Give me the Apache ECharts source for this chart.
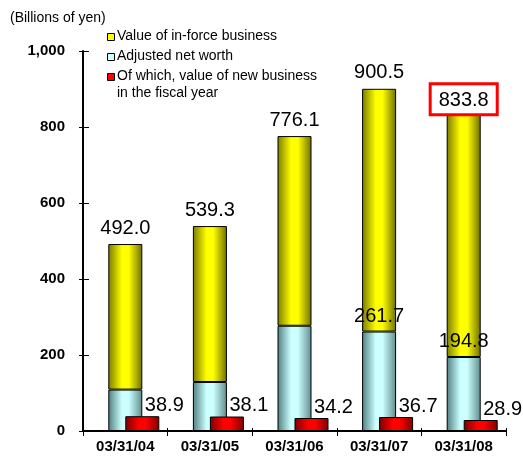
<!DOCTYPE html>
<html>
<head>
<meta charset="utf-8">
<script src="https://cdn.jsdelivr.net/npm/echarts@6/dist/echarts.min.js"></script>
<style>
  html, body { margin: 0; padding: 0; background: #fff; }
  #chart { width: 523px; height: 465px; }
</style>
</head>
<body>
<div id="chart"></div>
<script>
// Embedded value, billions of yen, at fiscal year end
const dates = ['03/31/04', '03/31/05', '03/31/06', '03/31/07', '03/31/08'];
const totalValue = [492.0, 539.3, 776.1, 900.5, 833.8];
const adjustedNetWorth = [109, 129, 277, 261.7, 194.8];
const newBusinessValue = [38.9, 38.1, 34.2, 36.7, 28.9];
const netWorthLabelled = [false, false, false, true, true];
const highlightedIndex = 4;

const seriesNames = [
  'Value of in-force business',
  'Adjusted net worth',
  'Of which, value of new business\nin the fiscal year'
];

const FONT = '"Liberation Sans", Arial, sans-serif';

// in-force value is the part of the total above adjusted net worth
const inForceValue = totalValue.map((t, i) => +(t - adjustedNetWorth[i]).toFixed(1));

function cylinder(edgeL, mid, edgeR) {
  return new echarts.graphic.LinearGradient(0, 0, 1, 0, [
    { offset: 0, color: edgeL },
    { offset: 0.4, color: mid },
    { offset: 0.6, color: mid },
    { offset: 1, color: edgeR }
  ]);
}
const yellowFill = cylinder('#7a7a00', '#ffff00', '#6e6e00');
const blueFill = cylinder('#4f7f80', '#ccffff', '#5f8c8c');
const redFill = cylinder('#7a0000', '#ff0000', '#800000');
const legendColors = ['#ffff00', '#ccffff', '#ff0000'];

const valueLabel = {
  show: true,
  position: 'top',
  distance: 6,
  color: '#000',
  fontFamily: FONT,
  fontSize: 20
};

const chart = echarts.init(document.getElementById('chart'), null, { renderer: 'canvas' });

// hand-built legend so the swatch lines up with the first text line
const legendGraphics = [];
let ly = 31;
seriesNames.forEach((name, i) => {
  legendGraphics.push({
    type: 'rect',
    left: 107, top: ly + 2,
    shape: { width: 7, height: 7 },
    style: { fill: legendColors[i], stroke: '#000', lineWidth: 1 }
  });
  legendGraphics.push({
    type: 'text',
    left: 117, top: ly - 3,
    style: { text: name, fill: '#000', font: '14px ' + FONT, lineHeight: 17 }
  });
  ly += 20;
});
legendGraphics.push({
  type: 'text',
  left: 10, top: 11,
  style: { text: '(Billions of yen)', fill: '#000', font: '14px ' + FONT }
});

const option = {
  animation: false,
  backgroundColor: '#fff',
  grid: [
    { left: 83, right: 17, top: 51, bottom: 34 },
    { left: 100, right: 0, top: 51, bottom: 34 }
  ],
  xAxis: [
    {
      type: 'category', gridIndex: 0, data: dates,
      axisLine: { lineStyle: { color: '#000', width: 2 } },
      axisTick: { show: true, length: 5, lineStyle: { color: '#000', width: 1 } },
      axisLabel: { color: '#000', fontFamily: FONT, fontWeight: 'bold', fontSize: 15, margin: 8 }
    },
    {
      type: 'category', gridIndex: 0, data: dates, position: 'bottom',
      axisLine: { show: false },
      axisTick: { show: true, inside: true, length: 3, lineStyle: { color: '#000', width: 1 } },
      axisLabel: { show: false }
    },
    {
      type: 'category', gridIndex: 1, data: dates, show: false
    }
  ],
  yAxis: [
    {
      type: 'value', gridIndex: 0, min: 0, max: 1000, interval: 200,
      splitLine: { show: false },
      axisLine: { show: true, lineStyle: { color: '#000', width: 2 } },
      axisTick: { show: true, length: 4, lineStyle: { color: '#000', width: 1 } },
      axisLabel: {
        color: '#000', fontFamily: FONT, fontWeight: 'bold', fontSize: 15, margin: 18,
        formatter: v => v.toLocaleString('en-US')
      }
    },
    {
      type: 'value', gridIndex: 0, min: 0, max: 1000, interval: 200, position: 'left',
      splitLine: { show: false },
      axisLine: { show: false },
      axisTick: { show: true, inside: true, length: 6, lineStyle: { color: '#000', width: 1 } },
      axisLabel: { show: false }
    },
    {
      type: 'value', gridIndex: 1, min: 0, max: 1000, show: false, splitLine: { show: false }
    }
  ],
  series: [
    {
      name: seriesNames[1],
      type: 'bar', stack: 'ev', xAxisIndex: 0, yAxisIndex: 0,
      barWidth: 34,
      itemStyle: { color: blueFill, borderColor: '#000', borderWidth: 1 },
      data: adjustedNetWorth.map((v, i) => ({
        value: v,
        label: Object.assign({}, valueLabel, { show: netWorthLabelled[i], distance: 5 })
      })),
      z: 2
    },
    {
      name: seriesNames[0],
      type: 'bar', stack: 'ev', xAxisIndex: 0, yAxisIndex: 0,
      barWidth: 34,
      itemStyle: { color: yellowFill, borderColor: '#000', borderWidth: 1 },
      data: inForceValue.map((v, i) => {
        const item = { value: v };
        if (i === highlightedIndex) {
          item.label = Object.assign({}, valueLabel, {
            backgroundColor: '#fff', borderColor: '#ff0000', borderWidth: 3,
            padding: [5, 7, 3, 7], distance: 1
          });
        }
        return item;
      }),
      label: Object.assign({}, valueLabel, {
        formatter: p => totalValue[p.dataIndex].toFixed(1)
      }),
      z: 1
    },
    {
      name: seriesNames[2],
      type: 'bar', xAxisIndex: 2, yAxisIndex: 2,
      barWidth: 34,
      itemStyle: { color: redFill, borderColor: '#000', borderWidth: 1 },
      data: newBusinessValue,
      label: Object.assign({}, valueLabel, {
        distance: 1, offset: [22, 0],
        formatter: p => p.value.toFixed(1)
      }),
      z: 3
    }
  ],
  graphic: legendGraphics
};

chart.setOption(option);
</script>
</body>
</html>
